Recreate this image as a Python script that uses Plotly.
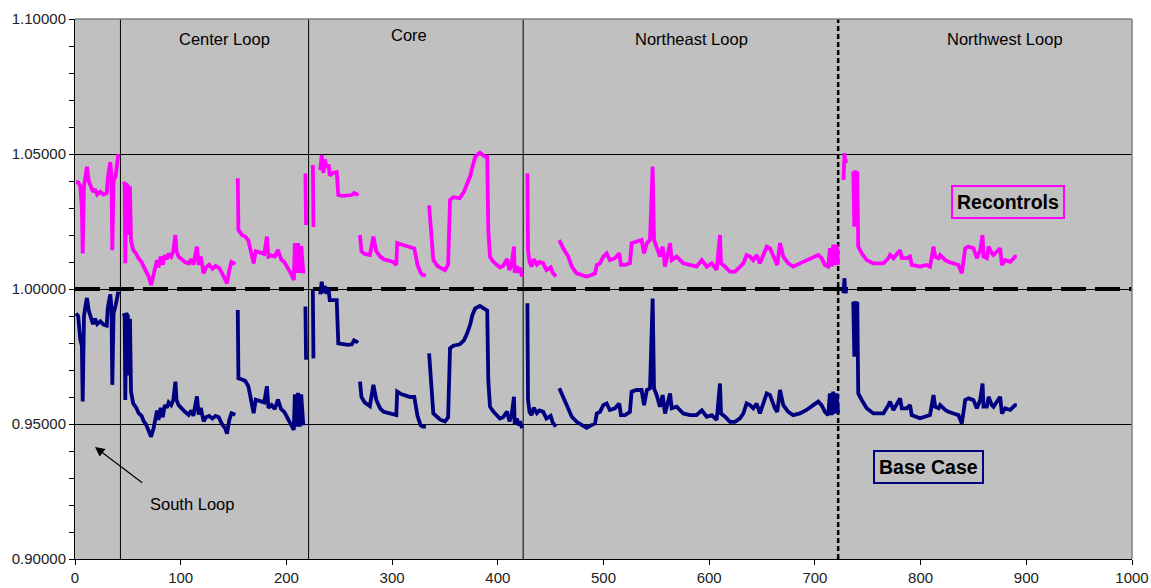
import plotly.graph_objects as go

# Station index along the feeder (None marks a break between loop sections)
station = [
    1, 3, 5, 6.5, 7.3, 8.5, 10, 11.3, 13, 15, 17, 19, 21, 24, 27, 30, 31, 33.4, 34.5, 35.3, 36.5, 38.5, 40, 41, None,
    46, 47, 47.6, 48.5, 50, 51, 52, 53, 55, 58, 60.2, 63, 65, 67, 69.7, 72, 74.4, 76, 77.6, 79, 81, 83, 85, 87, 88.6,
    91, 93, 95, 96, 98, 101, 104, 107.5, 110, 112, 115.4, 117, 119, 121.7, 124, 127, 130, 133, 136, 139, 142, 143.8,
    146, 148, 151.7, None,
    154, 154.6, 158, 161, 164, 166, 169, 171, 175, 179, 181.6, 183, 186, 189, 192, 195, 198, 201, 204, 207, 208,
    209.5, 211, 212.5, 214, 216, None,
    218, 218.6, None,
    225, 225.6, None,
    232, 233.4, 235, 236.5, 238, 240, 241, 244, 247.6, 249.1, 253, 258, 262, 264, 266.5, 267.5, None,
    269.6, 271, 274, 279, 282.3, 285, 288.6, 292, 297, 301, 304, 304.8, 309, 313, 317, 321, 324, 327, 329, 332, None,
    335, 337, 339, 343, 346, 350, 353, 354.8, 358, 364, 368, 371, 374, 376, 378.6, 383, 388, 390, 391, 392.6, 396,
    399, 402, 405, 408.7, 411, 413, 415.3, 416, 418, 420, 421, 422.9, None,
    428, 428.6, 430, 432, 434, 437, 439.5, 443, 446, 450, 452, 455, None,
    458.2, 462, 466.7, 470, 474.6, 479.4, 484, 488.7, 492, 493.6, 496.7, 499.8, 503, 506, 510.8, 514.9, 516.5,
    520.3, 525, 526.6, 531.4, 536, 538.4, 541, 544, 546.5, 547.8, 550.3, 553.4, 556, 558.2, 563, 564.5, 569.2,
    575.5, 581.8, 588, 593, 597.7, 602.4, 607.1, 610.2, 611.2, 615, 619.7, 624.4, 629.1, 632.3, 635.4, 638.6,
    641.7, 644.9, 648, 654.4, 657.5, 662.2, 664.4, 667, 670.1, 674.8, 679.5, 685.8, 692.1, 698.4, 703.2, 706.3,
    709.5, 712.6, 714.2, 715.8, 717.3, 718.9, 720.5, 722, None,
    727, 728, 728.5, 731, None,
    736.3, 737.3, 738.2, 739.1, 740.1, 741, 744.3, 749, 755.3, 764.8, 769.5, 771.1, 774.3, 780.6, 782.2, 786.9,
    790, 791.6, 799.4, 805.7, 808.9, 812.2, 813.8, 817, 818.5, 823.3, 826.4, 831.1, 835.8, 839, 840.6, 842.2,
    845.3, 850, 853.2, 856.4, 858.6, 859.5, 862.7, 864.3, 867.4, 869, 875.3, 876.9, 880, 884.8, 889.5, 891,
]

# Per-unit voltage with recontrols applied
recontrols = [
    1.0397, 1.0395, 1.0380, 1.0300, 1.0132, 1.0380, 1.0420, 1.0453, 1.0400, 1.0380, 1.0360, 1.0370, 1.0350, 1.0360,
    1.0350, 1.0355, 1.0410, 1.0470, 1.0420, 1.0144, 1.0400, 1.0420, 1.0490, 1.0500, None,
    1.0397, 1.0390, 1.0095, 1.0390, 1.0380, 1.0200, 1.0380, 1.0180, 1.0145, 1.0130, 1.0113, 1.0100, 1.0083, 1.0070,
    1.0046, 1.0015, 1.0058, 1.0090, 1.0107, 1.0080, 1.0120, 1.0090, 1.0125, 1.0110, 1.0131,
    1.0120, 1.0140, 1.0200, 1.0140, 1.0120, 1.0110, 1.0100, 1.0095, 1.0110, 1.0090, 1.0157, 1.0090, 1.0120, 1.0058,
    1.0080, 1.0090, 1.0075, 1.0085, 1.0080, 1.0060, 1.0040, 1.0021, 1.0070, 1.0100, 1.0093, None,
    1.0410, 1.0219, 1.0200, 1.0194, 1.0180, 1.0150, 1.0095, 1.0140, 1.0135, 1.0130, 1.0194, 1.0120, 1.0125, 1.0120,
    1.0145, 1.0110, 1.0100, 1.0080, 1.0060, 1.0033, 1.0170, 1.0060, 1.0170, 1.0060, 1.0160, 1.0058, None,
    1.0428, 1.0237, None,
    1.0459, 1.0230, None,
    1.0440, 1.0496, 1.0430, 1.0480, 1.0450, 1.0460, 1.0420, 1.0430, 1.0433, 1.0348, 1.0345, 1.0345, 1.0348, 1.0356,
    1.0352, 1.0345, None,
    1.0200, 1.0140, 1.0130, 1.0126, 1.0194, 1.0140, 1.0121, 1.0110, 1.0105, 1.0100, 1.0089, 1.0170, 1.0165, 1.0160,
    1.0155, 1.0150, 1.0090, 1.0060, 1.0052, 1.0050, None,
    1.0310, 1.0200, 1.0107, 1.0085, 1.0080, 1.0070, 1.0090, 1.0330, 1.0340, 1.0336, 1.0360, 1.0390, 1.0420, 1.0452,
    1.0490, 1.0505, 1.0490, 1.0490, 1.0219, 1.0119, 1.0100, 1.0090, 1.0080, 1.0085, 1.0111, 1.0070, 1.0090, 1.0157,
    1.0060, 1.0085, 1.0060, 1.0080, 1.0046, None,
    1.0428, 1.0145, 1.0100, 1.0083, 1.0110, 1.0090, 1.0100, 1.0095, 1.0070, 1.0080, 1.0060, 1.0046, None,
    1.0181, 1.0150, 1.0120, 1.0083, 1.0058, 1.0052, 1.0046, 1.0052, 1.0058, 1.0089, 1.0095, 1.0120, 1.0132, 1.0107,
    1.0114, 1.0132, 1.0089, 1.0089, 1.0095, 1.0170, 1.0176, 1.0182, 1.0132, 1.0170, 1.0182, 1.0453, 1.0182, 1.0157,
    1.0120, 1.0157, 1.0083, 1.0170, 1.0107, 1.0120, 1.0095, 1.0089, 1.0083, 1.0107, 1.0083, 1.0095, 1.0071, 1.0200,
    1.0095, 1.0083, 1.0064, 1.0064, 1.0083, 1.0095, 1.0126, 1.0120, 1.0107, 1.0126, 1.0095, 1.0157, 1.0151, 1.0107,
    1.0089, 1.0170, 1.0120, 1.0095, 1.0083, 1.0095, 1.0107, 1.0120, 1.0126, 1.0114, 1.0089, 1.0083, 1.0151, 1.0083,
    1.0164, 1.0089, 1.0164, 1.0089, None,
    1.0404, 1.0503, 1.0474, 1.0474, None,
    1.0435, 1.0231, 1.0440, 1.0250, 1.0435, 1.0157, 1.0132, 1.0107, 1.0095, 1.0095, 1.0114, 1.0126, 1.0114, 1.0144,
    1.0114, 1.0114, 1.0120, 1.0089, 1.0083, 1.0089, 1.0083, 1.0157, 1.0120, 1.0114, 1.0126, 1.0107, 1.0101, 1.0095,
    1.0089, 1.0058, 1.0095, 1.0151, 1.0157, 1.0151, 1.0114, 1.0144, 1.0200, 1.0120, 1.0114, 1.0157, 1.0132, 1.0126,
    1.0151, 1.0089, 1.0107, 1.0101, 1.0120, 1.0120,
]

# Per-unit voltage for the base case
base_case = [
    0.9910, 0.9900, 0.9813, 0.9790, 0.9583, 0.9900, 0.9940, 0.9967, 0.9920, 0.9890, 0.9870, 0.9890, 0.9870, 0.9880,
    0.9868, 0.9864, 0.9930, 0.9980, 0.9930, 0.9645, 0.9910, 0.9940, 0.9978, 0.9990, None,
    0.9910, 0.9900, 0.9589, 0.9910, 0.9900, 0.9680, 0.9890, 0.9620, 0.9577, 0.9560, 0.9540, 0.9530, 0.9510, 0.9500,
    0.9475, 0.9453, 0.9485, 0.9520, 0.9550, 0.9515, 0.9560, 0.9525, 0.9570, 0.9560, 0.9580,
    0.9570, 0.9589, 0.9657, 0.9590, 0.9570, 0.9555, 0.9545, 0.9534, 0.9550, 0.9530, 0.9602, 0.9535, 0.9560, 0.9510,
    0.9525, 0.9530, 0.9520, 0.9530, 0.9525, 0.9500, 0.9485, 0.9464, 0.9515, 0.9540, 0.9534, None,
    0.9922, 0.9669, 0.9665, 0.9660, 0.9640, 0.9600, 0.9540, 0.9590, 0.9585, 0.9580, 0.9640, 0.9560, 0.9570, 0.9555,
    0.9590, 0.9555, 0.9545, 0.9520, 0.9500, 0.9478, 0.9610, 0.9490, 0.9615, 0.9490, 0.9610, 0.9495, None,
    0.9935, 0.9738, None,
    0.9997, 0.9743, None,
    0.9980, 1.0027, 0.9985, 1.0010, 0.9990, 0.9995, 0.9959, 0.9960, 0.9959, 0.9799, 0.9795, 0.9793, 0.9795, 0.9810,
    0.9805, 0.9800, None,
    0.9657, 0.9600, 0.9580, 0.9566, 0.9645, 0.9590, 0.9558, 0.9545, 0.9540, 0.9535, 0.9533, 0.9620, 0.9610, 0.9605,
    0.9600, 0.9600, 0.9530, 0.9495, 0.9490, 0.9490, None,
    0.9762, 0.9650, 0.9539, 0.9525, 0.9515, 0.9509, 0.9525, 0.9781, 0.9790, 0.9795, 0.9810, 0.9836, 0.9870, 0.9904,
    0.9928, 0.9937, 0.9925, 0.9920, 0.9663, 0.9564, 0.9545, 0.9530, 0.9520, 0.9525, 0.9546, 0.9510, 0.9530, 0.9601,
    0.9500, 0.9520, 0.9495, 0.9510, 0.9484, None,
    0.9947, 0.9590, 0.9545, 0.9533, 0.9560, 0.9540, 0.9550, 0.9545, 0.9520, 0.9530, 0.9505, 0.9490, None,
    0.9632, 0.9600, 0.9562, 0.9527, 0.9508, 0.9496, 0.9486, 0.9496, 0.9502, 0.9539, 0.9545, 0.9570, 0.9576, 0.9552,
    0.9558, 0.9576, 0.9533, 0.9533, 0.9545, 0.9620, 0.9626, 0.9626, 0.9570, 0.9626, 0.9632, 0.9965, 0.9632, 0.9607,
    0.9564, 0.9607, 0.9539, 0.9613, 0.9558, 0.9564, 0.9539, 0.9533, 0.9533, 0.9551, 0.9527, 0.9533, 0.9515, 0.9650,
    0.9539, 0.9527, 0.9508, 0.9508, 0.9521, 0.9539, 0.9576, 0.9570, 0.9558, 0.9576, 0.9539, 0.9613, 0.9607, 0.9558,
    0.9545, 0.9626, 0.9570, 0.9545, 0.9533, 0.9539, 0.9552, 0.9570, 0.9583, 0.9570, 0.9545, 0.9533, 0.9613, 0.9533,
    0.9620, 0.9539, 0.9613, 0.9539, None,
    0.9985, 1.0040, 0.9990, 0.9990, None,
    0.9953, 0.9749, 0.9955, 0.9760, 0.9953, 0.9613, 0.9589, 0.9558, 0.9539, 0.9539, 0.9570, 0.9583, 0.9552, 0.9595,
    0.9558, 0.9558, 0.9570, 0.9533, 0.9521, 0.9527, 0.9533, 0.9607, 0.9564, 0.9558, 0.9570, 0.9552, 0.9545, 0.9539,
    0.9533, 0.9502, 0.9545, 0.9589, 0.9595, 0.9589, 0.9558, 0.9589, 0.9650, 0.9564, 0.9564, 0.9601, 0.9570, 0.9564,
    0.9601, 0.9539, 0.9558, 0.9552, 0.9570, 0.9570,
]

# Loop boundaries along the station axis
loop_bounds = [43, 221, 424]
loop_dashed = 722
loop_names = ["Center Loop", "Core", "Northeast Loop", "Northwest Loop"]
loop_label_x = [141, 316, 583, 880]
loop_label_y = [1.0925, 1.0940, 1.0925, 1.0925]

x_ticks = list(range(0, 1001, 100))
y_ticks = [0.90, 0.95, 1.00, 1.05, 1.10]

MAGENTA = "#ff00ff"
NAVY = "#000080"
FONT = "Liberation Sans, Arial, sans-serif"

fig = go.Figure()
fig.add_trace(go.Scatter(x=station, y=recontrols, mode="lines", name="Recontrols",
                         line=dict(color=MAGENTA, width=3.8), connectgaps=False))
fig.add_trace(go.Scatter(x=station, y=base_case, mode="lines", name="Base Case",
                         line=dict(color=NAVY, width=3.8), connectgaps=False))

shapes = []
for xb in loop_bounds:
    shapes.append(dict(type="line", xref="x", yref="y", x0=xb, x1=xb, y0=0.9, y1=1.1,
                       line=dict(color="black", width=1), layer="between"))
shapes.append(dict(type="line", xref="x", yref="y", x0=loop_dashed, x1=loop_dashed, y0=0.9, y1=1.1,
                   line=dict(color="black", width=2.5, dash="5px,3px"), layer="between"))
# 1.0 p.u. reference
shapes.append(dict(type="line", xref="x", yref="y", x0=0, x1=1000, y0=1.0, y1=1.0,
                   line=dict(color="black", width=4, dash="25px,9px"), layer="between"))
# plot frame (top and right edges)
shapes.append(dict(type="line", xref="paper", yref="paper", x0=0, x1=1, y0=1, y1=1,
                   line=dict(color="#808080", width=1.5)))
shapes.append(dict(type="line", xref="paper", yref="paper", x0=1, x1=1, y0=0, y1=1,
                   line=dict(color="#808080", width=1.5)))

annotations = []
for name, lx, ly in zip(loop_names, loop_label_x, loop_label_y):
    annotations.append(dict(x=lx, y=ly, xref="x", yref="y", text=name, showarrow=False,
                            font=dict(family=FONT, size=16.5, color="black")))
annotations.append(dict(x=18.9, y=0.9415, ax=65, ay=0.9278, xref="x", yref="y", axref="x", ayref="y",
                        text="", showarrow=True, arrowhead=2, arrowsize=1.6, arrowwidth=1.2,
                        arrowcolor="black", standoff=0))
annotations.append(dict(x=111, y=0.9203, xref="x", yref="y", text="South Loop", showarrow=False,
                        font=dict(family=FONT, size=16.5, color="black")))
annotations.append(dict(x=882.7, y=1.0322, xref="x", yref="y", text="<b>Recontrols</b>", showarrow=False,
                        font=dict(family=FONT, size=19.5, color="black"),
                        bordercolor=MAGENTA, borderwidth=2, borderpad=4))
annotations.append(dict(x=807, y=0.9341, xref="x", yref="y", text="<b>Base Case</b>", showarrow=False,
                        font=dict(family=FONT, size=19.5, color="black"),
                        bordercolor=NAVY, borderwidth=2, borderpad=4))

fig.update_layout(
    width=1151, height=588,
    margin=dict(l=75, r=19, t=19, b=29),
    paper_bgcolor="white",
    plot_bgcolor="#c0c0c0",
    showlegend=False,
    shapes=shapes,
    annotations=annotations,
    font=dict(family=FONT, size=15, color="#222222"),
)
fig.update_xaxes(range=[0, 1000], tickvals=x_ticks, ticks="outside", ticklen=5, tickcolor="black",
                 showgrid=False, zeroline=False, showline=True, linecolor="black", linewidth=1,
                 automargin=False, tickfont=dict(family=FONT, size=15, color="#222222"))
fig.update_yaxes(range=[0.9, 1.1], tickvals=y_ticks, tickformat=".5f", ticks="outside", ticklen=5,
                 tickcolor="black", showgrid=True, gridcolor="black", gridwidth=1, zeroline=False,
                 showline=True, linecolor="black", linewidth=1, automargin=False,
                 minor=dict(dtick=0.01, ticks="outside", ticklen=5, tickcolor="black", showgrid=False),
                 tickfont=dict(family=FONT, size=15, color="#222222"))

fig.write_html("out.html")
